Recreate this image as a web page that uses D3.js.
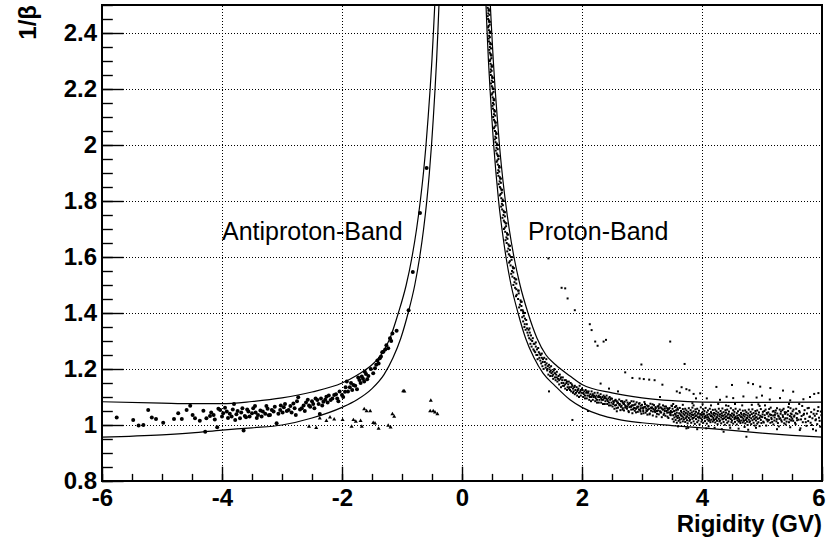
<!DOCTYPE html>
<html><head><meta charset="utf-8">
<script src="https://cdn.jsdelivr.net/npm/d3@7"></script>
<style>html,body{margin:0;padding:0;background:#fff;} svg{display:block;}</style>
</head><body>
<svg id="c" width="827" height="550"></svg>
<script>
// ---------- axes / labels ----------
const xTicks = [-6,-4,-2,0,2,4,6];
const yTicks = [0.8,1,1.2,1.4,1.6,1.8,2,2.2,2.4];
const xGrid = [-4,-2,0,2,4];
const yGrid = [1,1.2,1.4,1.6,1.8,2,2.2,2.4];
const xTitle = "Rigidity (GV)";
const yTitle = "1/\u03b2";
const bandLabels = [{text:"Antiproton-Band", r:-4.0, v:1.661},{text:"Proton-Band", r:1.1, v:1.661}];

// ---------- band boundary curves [rigidity, 1/beta] ----------
const antiUpper = [[-6,1.083],[-5,1.078],[-4.5,1.076],[-4,1.076],[-3.5,1.084],[-3,1.097],[-2.5,1.118],[-2,1.15],[-1.75,1.178],[-1.5,1.215],[-1.35,1.25],[-1.2,1.31],[-1.061,1.4],[-0.93,1.5],[-0.833,1.6],[-0.757,1.7],[-0.695,1.8],[-0.643,1.9],[-0.6,2.0],[-0.564,2.1],[-0.531,2.2],[-0.502,2.3],[-0.477,2.4],[-0.454,2.5],[-0.435,2.6]];
const antiLower = [[-6,0.957],[-5,0.965],[-4.5,0.972],[-4,0.982],[-3.5,0.99],[-3,1.0],[-2.5,1.025],[-2,1.063],[-1.75,1.09],[-1.5,1.13],[-1.3,1.18],[-1.15,1.24],[-1.02,1.31],[-0.898,1.4],[-0.787,1.5],[-0.705,1.6],[-0.64,1.7],[-0.587,1.8],[-0.544,1.9],[-0.508,2.0],[-0.477,2.1],[-0.449,2.2],[-0.424,2.3],[-0.403,2.4],[-0.384,2.5],[-0.367,2.6]];
const protUpper = [[0.452,2.6],[0.472,2.5],[0.496,2.4],[0.522,2.3],[0.552,2.2],[0.587,2.1],[0.624,2.0],[0.669,1.9],[0.723,1.8],[0.787,1.7],[0.866,1.6],[0.967,1.5],[1.10,1.4],[1.25,1.31],[1.40,1.25],[1.56,1.215],[1.8,1.175],[2.0,1.145],[2.5,1.115],[3.0,1.097],[3.5,1.087],[4.0,1.082],[4.5,1.081],[5.0,1.081],[6.0,1.082]];
const protLower = [[0.382,2.6],[0.40,2.5],[0.419,2.4],[0.441,2.3],[0.467,2.2],[0.496,2.1],[0.528,2.0],[0.566,1.9],[0.61,1.8],[0.666,1.7],[0.733,1.6],[0.818,1.5],[0.934,1.4],[1.06,1.31],[1.2,1.24],[1.35,1.185],[1.55,1.14],[1.8,1.09],[2.0,1.063],[2.3,1.036],[2.6,1.02],[3.0,1.008],[3.5,0.998],[4.0,0.99],[4.5,0.981],[5.0,0.971],[5.5,0.963],[6.0,0.957]];

// ---------- antiproton candidates (large dots) ----------
const antiDots = [[-5.755,1.027],[-5.48,1.018],[-5.39,0.998],[-5.31,1.0],[-5.23,1.054],[-5.17,1.027],[-5.1,1.021],[-4.98,1.008],[-4.8,1.021],[-4.73,1.042],[-4.67,1.021],[-4.59,1.054],[-4.53,1.069],[-4.49,1.036],[-4.45,1.024],[-4.37,1.015],[-4.31,1.051],[-4.28,0.976],[-4.26,1.024],[-4.2,1.032],[-4.14,1.036],[-4.08,0.992],[-4.03,1.054],[-3.98,1.042],[-3.92,1.048],[-3.84,1.03],[-3.8,1.075],[-3.76,1.038],[-3.7,1.024],[-3.64,0.98],[-3.62,1.032],[-3.56,1.048],[-3.5,1.042],[-3.45,1.068],[-3.4,1.036],[-3.32,1.048],[-3.26,1.068],[-3.2,1.036],[-3.17,1.054],[-3.09,1.006],[-3.03,1.054],[-2.97,1.063],[-2.89,1.054],[-2.81,1.077],[-2.77,1.036],[-2.73,1.099],[-2.67,1.06],[-2.6,1.08],[-2.53,1.065],[-2.48,1.075],[-2.41,1.089],[-2.37,1.039],[-2.31,1.083],[-2.26,1.101],[-2.19,1.089],[-2.13,1.107],[-2.08,1.095],[-2.0,1.107],[-1.95,1.119],[-1.92,1.155],[-1.87,1.135],[-1.81,1.143],[-1.75,1.128],[-1.71,1.161],[-1.67,1.173],[-1.63,1.155],[-1.6,1.182],[-1.58,1.163],[-1.45,1.203],[-1.39,1.22],[-1.37,1.238],[-1.31,1.262],[-1.23,1.274],[-1.16,1.327],[-1.09,1.337],[-0.89,1.41],
[-4.18,1.045],[-4.12,1.02],[-4.06,1.058],[-4.0,1.03],[-3.95,1.062],[-3.9,1.025],[-3.87,1.04],[-3.82,1.055],[-3.78,1.018],[-3.74,1.05],[-3.68,1.045],[-3.66,1.06],[-3.6,1.028],
[-3.58,1.055],[-3.54,1.03],[-3.48,1.06],[-3.44,1.045],[-3.42,1.025],[-3.36,1.052],[-3.34,1.03],[-3.28,1.04],[-3.24,1.058],[-3.22,1.035],[-3.14,1.048],[-3.12,1.065],[-3.06,1.04],[-3.02,1.07],
[-2.99,1.045],[-2.95,1.075],[-2.92,1.05],[-2.86,1.068],[-2.84,1.045],[-2.79,1.06],[-2.75,1.085],[-2.7,1.055],[-2.64,1.07],[-2.62,1.05],[-2.57,1.09],[-2.55,1.07],[-2.5,1.085],[-2.46,1.06],[-2.44,1.095],[-2.39,1.075],
[-2.35,1.095],[-2.33,1.07],[-2.28,1.09],[-2.24,1.08],[-2.22,1.105],[-2.16,1.095],[-2.1,1.11],[-2.06,1.085],[-2.04,1.12],[-1.98,1.1],[-1.94,1.135],[-1.9,1.12],[-1.85,1.15],[-1.83,1.125],
[-1.78,1.14],[-1.73,1.17],[-1.69,1.15],[-1.65,1.165],[-1.62,1.19],[-1.56,1.175],[-1.52,1.2],[-1.48,1.185],[-1.43,1.215],[-1.41,1.23],[-1.35,1.245],[-1.33,1.26],[-1.28,1.27],[-1.26,1.285],[-1.2,1.31],[-1.18,1.30],
[-0.82,1.546],[-0.70,1.757],[-0.59,1.918]];

// ---------- small triangles ----------
const triPoints = [[-0.98,1.121],[-0.96,1.12],[-0.52,1.087],[-0.53,1.05],[-0.48,1.05],[-0.45,1.045],[-0.41,1.039],[-1.16,1.039],[-1.13,1.03],[-1.63,1.057],[-1.59,1.05],[-1.53,1.05],[-1.81,1.018],[-1.77,1.012],[-1.84,0.994],[-1.67,0.994],[-1.69,1.015],[-1.48,1.008],[-1.45,1.006],[-1.39,0.987],[-1.23,0.998],[-1.19,0.992],[-1.99,1.018],[-2.13,1.02],[-2.2,1.027],[-2.26,1.015],[-2.37,1.024],[-2.43,0.99],[-2.55,0.994]];

// ---------- proton candidates (small dots) ----------
const protSteep = [[.428,2.49],[.446,2.485],[.438,2.47],[.458,2.465],[.436,2.45],[.449,2.445],[.462,2.43],[.443,2.425],[.448,2.41],[.467,2.405],[.452,2.39],[.465,2.385],[.449,2.37],[.471,2.365],[.464,2.35],[.484,2.345],[.463,2.33],[.476,2.325],[.49,2.31],[.471,2.305],[.476,2.29],[.495,2.285],[.48,2.27],[.494,2.265],[.480,2.25],[.502,2.245],[.496,2.23],[.516,2.225],[.497,2.21],[.51,2.205],[.525,2.19],[.506,2.185],[.511,2.17],[.53,2.165],[.516,2.15],[.53,2.145],[.516,2.13],[.538,2.125],[.533,2.11],[.553,2.105],[.533,2.09],[.546,2.085],[.562,2.07],[.543,2.065],[.55,2.05],[.569,2.045],[.556,2.03],[.57,2.025],[.558,2.01],[.58,2.005],[.576,1.99],[.596,1.985],[.578,1.97],[.591,1.965],[.608,1.95],[.589,1.945],[.597,1.93],[.62,1.925],[.605,1.91],[.621,1.905],[.607,1.89],[.63,1.885],[.627,1.87],[.648,1.865],[.631,1.85],[.644,1.845],[.664,1.83],[.644,1.825],[.655,1.81],[.678,1.805],[.665,1.79],[.681,1.785],[.669,1.77],[.692,1.765],[.691,1.75],[.715,1.745],[.697,1.73],[.711,1.725],[.735,1.71],[.714,1.705],[.72,1.69],[.75,1.685],[.74,1.67],[.758,1.665],[.745,1.65],[.773,1.645],[.772,1.63],[.798,1.625],[.78,1.61],[.796,1.605],[.826,1.59],[.798,1.585],[.81,1.57],[.846,1.565],[.834,1.55],[.855,1.545],[.84,1.53],[.873,1.525],[.875,1.51],[.905,1.505],[.885,1.49],[.905,1.485],[.945,1.47],[.912,1.465],[.935,1.45],[.975,1.445],[.965,1.43],[.99,1.425],[.985,1.41],[1.02,1.405],
[.441,2.48],[.451,2.44],[.46,2.4],[.47,2.36],[.48,2.32],[.491,2.28],[.503,2.24],[.513,2.2],[.527,2.16],[.54,2.12],[.553,2.08],[.568,2.04],[.584,2.0],[.6,1.96],[.617,1.92],[.636,1.88],[.657,1.84],[.679,1.8],[.702,1.76],[.727,1.72],[.755,1.68],[.786,1.64],[.818,1.6],[.852,1.56],[.89,1.52],[.935,1.48],[.982,1.44],[1.03,1.40],
[.420,2.50],[.428,2.46],[.437,2.42],[.445,2.38],[.454,2.34],[.463,2.30],[.473,2.26],[.484,2.22],[.496,2.18],[.507,2.14],[.519,2.10],[.532,2.06],[.546,2.02],[.562,1.98],[.577,1.94],[.593,1.90],[.611,1.86],[.63,1.82],[.652,1.78],[.674,1.74],[.698,1.70],[.725,1.66],[.754,1.62],[.785,1.58],[.82,1.54],[.856,1.50],[.90,1.46],[.952,1.42],
[.456,2.48],[.465,2.44],[.474,2.40],[.483,2.36],[.492,2.32],[.502,2.28],[.514,2.24],[.527,2.20],[.539,2.16],[.551,2.12],[.565,2.08],[.579,2.04],[.597,2.00],[.613,1.96],[.630,1.92],[.648,1.88],[.668,1.84],[.692,1.80],[.716,1.76],[.741,1.72],[.77,1.68],[.8,1.64],[.832,1.60],[.866,1.56],[.905,1.52],[.945,1.48],[.995,1.44],[1.05,1.40]];
const protMid = [[1.01,1.41],[1.02,1.37],[1.03,1.39],[1.04,1.35],[1.05,1.38],[1.06,1.34],[1.08,1.36],[1.09,1.33],
[1.11,1.34],[1.12,1.31],[1.13,1.33],[1.14,1.29],[1.15,1.32],[1.16,1.28],[1.18,1.31],[1.19,1.27],
[1.21,1.29],[1.22,1.26],[1.23,1.28],[1.24,1.25],[1.25,1.27],[1.26,1.235],[1.28,1.26],[1.29,1.24],
[1.31,1.25],[1.32,1.22],[1.33,1.24],[1.34,1.21],[1.35,1.235],[1.36,1.20],[1.38,1.225],[1.39,1.215],
[1.41,1.22],[1.42,1.195],[1.43,1.21],[1.44,1.18],[1.46,1.205],[1.47,1.175],[1.48,1.195],[1.49,1.185],
[1.51,1.19],[1.52,1.165],[1.54,1.2],[1.55,1.17],[1.57,1.18],[1.59,1.155],
[1.61,1.175],[1.62,1.145],[1.64,1.165],[1.65,1.135],[1.67,1.16],[1.69,1.15],
[1.71,1.16],[1.72,1.13],[1.74,1.15],[1.75,1.125],[1.77,1.145],[1.79,1.135],
[1.81,1.15],[1.82,1.12],[1.84,1.14],[1.85,1.115],[1.87,1.135],[1.89,1.125],
[1.91,1.135],[1.92,1.105],[1.94,1.13],[1.95,1.10],[1.97,1.12],[1.99,1.115],
[2.01,1.125],[2.02,1.10],[2.04,1.12],[2.05,1.095],[2.07,1.115],[2.09,1.105],
[2.11,1.12],[2.12,1.09],[2.14,1.11],[2.15,1.085],[2.17,1.105],[2.19,1.10],
[2.21,1.115],[2.22,1.085],[2.24,1.105],[2.25,1.08],[2.27,1.10],[2.29,1.09],
[2.31,1.11],[2.32,1.08],[2.34,1.10],[2.35,1.075],[2.37,1.095],[2.39,1.085],
[2.41,1.105],[2.42,1.075],[2.44,1.095],[2.45,1.07],[2.47,1.09],[2.49,1.08],
[2.50,1.094],[2.51,1.066],[2.53,1.081],[2.54,1.058],[2.55,1.087],[2.57,1.071],[2.58,1.049],[2.59,1.079],
[2.60,1.062],[2.62,1.091],[2.63,1.074],[2.64,1.053],[2.66,1.069],[2.67,1.085],[2.68,1.06],[2.69,1.077],
[2.70,1.052],[2.71,1.083],[2.73,1.067],[2.74,1.088],[2.75,1.058],[2.77,1.072],[2.78,1.046],[2.79,1.064],
[2.80,1.079],[2.82,1.055],[2.83,1.07],[2.84,1.042],[2.86,1.084],[2.87,1.061],[2.88,1.051],[2.89,1.074],
[2.90,1.058],[2.91,1.081],[2.93,1.047],[2.94,1.066],[2.95,1.076],[2.97,1.053],[2.98,1.069],[2.99,1.04],
[3.00,1.072],[3.02,1.05],[3.03,1.063],[3.04,1.082],[3.06,1.044],[3.07,1.059],[3.08,1.07],[3.09,1.037],
[3.10,1.055],[3.11,1.068],[3.13,1.041],[3.14,1.076],[3.15,1.051],[3.17,1.063],[3.18,1.034],[3.19,1.057],
[3.20,1.071],[3.22,1.046],[3.23,1.06],[3.24,1.03],[3.26,1.066],[3.27,1.052],[3.28,1.038],[3.29,1.074],
[3.30,1.049],[3.31,1.063],[3.33,1.028],[3.34,1.056],[3.35,1.07],[3.37,1.041],[3.38,1.058],[3.39,1.033],
[3.40,1.066],[3.42,1.044],[3.43,1.054],[3.44,1.025],[3.46,1.061],[3.47,1.037],[3.48,1.05],[3.49,1.069]];
const protExtra = [[1.005,1.385],[1.025,1.40],[1.045,1.36],[1.07,1.375],[1.085,1.345],[1.105,1.32],[1.125,1.345],[1.145,1.305],[1.17,1.3],[1.195,1.29],[1.205,1.265],[1.23,1.295],[1.255,1.25],[1.27,1.275],[1.295,1.255],[1.305,1.23],[1.33,1.255],[1.345,1.225],[1.37,1.24],[1.395,1.205],[1.405,1.235],[1.425,1.2],[1.45,1.215],[1.465,1.19],[1.485,1.21],
[1.505,1.175],[1.53,1.195],[1.56,1.16],[1.58,1.19],[1.6,1.165],[1.63,1.18],[1.66,1.15],[1.68,1.17],[1.70,1.14],[1.73,1.16],[1.76,1.135],[1.78,1.155],[1.80,1.125],[1.83,1.145],[1.86,1.12],[1.88,1.14],[1.90,1.115],[1.93,1.125],[1.96,1.14],[1.98,1.105],[2.0,1.13],[2.03,1.11],[2.06,1.125],[2.08,1.095],[2.1,1.115],[2.13,1.1],[2.16,1.12],[2.18,1.09],[2.2,1.105],[2.23,1.095],[2.26,1.115],[2.28,1.08],[2.3,1.1],[2.33,1.09],[2.36,1.105],[2.38,1.075],[2.4,1.095],[2.43,1.085],[2.46,1.1],[2.48,1.07],
[2.52,1.075],[2.56,1.09],[2.575,1.06],[2.6,1.08],[2.625,1.07],[2.65,1.085],[2.675,1.055],[2.7,1.075],[2.72,1.062],[2.76,1.08],[2.775,1.05],[2.81,1.066],[2.825,1.085],[2.85,1.056],[2.875,1.072],[2.9,1.045],[2.925,1.062],[2.96,1.078],[2.975,1.048],[3.01,1.062],[3.025,1.042],[3.05,1.075],[3.075,1.052],[3.1,1.066],[3.125,1.038],[3.16,1.06],[3.175,1.074],[3.21,1.05],[3.225,1.064],[3.25,1.04],[3.275,1.068],[3.31,1.045],[3.325,1.06],[3.36,1.036],[3.375,1.066],[3.41,1.05],[3.425,1.03],[3.45,1.058],[3.475,1.043],[3.5,1.068],
[3.52,1.075],[3.6,0.995],[3.68,1.072],[3.77,0.99],[3.84,1.078],[3.92,0.985],[4.01,1.074],[4.07,0.988],[4.15,1.07],[4.21,0.99],[4.27,1.075],[4.33,0.985],[4.4,1.07],[4.47,0.99],[4.55,1.075],[4.61,0.987],[4.67,1.07],[4.77,0.983],[4.83,1.072],[4.9,0.99],[4.96,1.068],[3.57,1.068],[3.86,1.07],[4.11,0.995],[4.44,1.068],[4.71,0.993],[4.94,1.074],[5.05,1.07],[5.25,0.985],[5.45,1.075],[5.62,1.075],[5.9,0.98],
[1.52,1.18],[1.55,1.185],[1.58,1.17],[1.62,1.16],[1.65,1.17],[1.68,1.14],[1.72,1.145],[1.75,1.155],[1.78,1.13],[1.82,1.135],[1.85,1.13],[1.88,1.11],[1.92,1.12],[1.95,1.115],[1.98,1.125],[2.02,1.115],[2.05,1.105],[2.08,1.12],[2.12,1.105],[2.15,1.1],[2.18,1.11],[2.22,1.1],[2.25,1.09],[2.28,1.105],[2.32,1.095],[2.35,1.09],[2.38,1.1],[2.42,1.09],[2.45,1.08],[2.48,1.095],[2.52,1.085],[2.55,1.07],[2.58,1.085],[2.62,1.075],[2.65,1.065],[2.68,1.08],[2.72,1.07],[2.75,1.065],[2.78,1.075],[2.82,1.065],[2.85,1.07],[2.88,1.06],[2.92,1.065],[2.95,1.055],[2.98,1.06],[3.02,1.058],[3.05,1.065],[3.08,1.05],[3.12,1.058],[3.15,1.062],[3.18,1.048],[3.22,1.055],[3.25,1.05],[3.28,1.06],[3.32,1.045],[3.35,1.055],[3.38,1.05],[3.42,1.06],[3.45,1.045],[3.48,1.035]];
const protDense = [[3.50,1.046],[3.51,1.021],[3.51,1.058],[3.52,1.035],[3.53,1.012],[3.53,1.049],[3.54,1.027],[3.55,1.064],[3.55,1.040],[3.56,1.018],[3.57,1.053],[3.57,1.031],[3.58,1.008],[3.58,1.044],[3.59,1.025],[3.59,1.060],[3.56,1.037],[3.54,1.050],
[3.60,1.033],[3.60,1.055],[3.61,1.015],[3.62,1.042],[3.62,1.026],[3.63,1.061],[3.64,1.009],[3.64,1.038],[3.65,1.050],[3.66,1.022],[3.66,1.045],[3.67,1.031],[3.68,1.057],[3.68,1.013],[3.69,1.040],[3.69,1.027],[3.65,1.034],[3.63,1.019],
[3.70,1.048],[3.70,1.020],[3.71,1.036],[3.72,1.058],[3.72,1.011],[3.73,1.043],[3.74,1.029],[3.74,1.052],[3.75,1.017],[3.76,1.039],[3.76,1.006],[3.77,1.047],[3.78,1.025],[3.78,1.060],[3.79,1.034],[3.79,1.015],[3.75,1.031],[3.73,1.024],
[3.80,1.041],[3.80,1.019],[3.81,1.053],[3.82,1.030],[3.82,1.008],[3.83,1.045],[3.84,1.022],[3.84,1.062],[3.85,1.036],[3.86,1.013],[3.86,1.049],[3.87,1.027],[3.88,1.040],[3.88,1.004],[3.89,1.056],[3.89,1.032],[3.85,1.025],[3.83,1.037],
[3.90,1.021],[3.90,1.047],[3.91,1.034],[3.92,1.010],[3.92,1.058],[3.93,1.028],[3.94,1.043],[3.94,1.016],[3.95,1.051],[3.96,1.031],[3.96,1.002],[3.97,1.039],[3.98,1.024],[3.98,1.063],[3.99,1.036],[3.99,1.012],[3.95,1.026],[3.93,1.040],
[4.00,1.044],[4.00,1.019],[4.01,1.031],[4.02,1.056],[4.02,1.008],[4.03,1.038],[4.04,1.024],[4.04,1.050],[4.05,1.014],[4.06,1.033],[4.06,1.061],[4.07,1.027],[4.08,1.045],[4.08,1.005],[4.09,1.036],[4.09,1.020],[4.05,1.029],[4.03,1.041],
[4.10,1.028],[4.10,1.052],[4.11,1.015],[4.12,1.039],[4.12,1.023],[4.13,1.058],[4.14,1.010],[4.14,1.034],[4.15,1.046],[4.16,1.019],[4.16,1.041],[4.17,1.030],[4.18,1.054],[4.18,1.012],[4.19,1.037],[4.19,1.025],[4.15,1.032],[4.13,1.017],
[4.20,1.043],[4.20,1.018],[4.21,1.033],[4.22,1.055],[4.22,1.009],[4.23,1.040],[4.24,1.026],[4.24,1.049],[4.25,1.015],[4.26,1.036],[4.26,1.003],[4.27,1.044],[4.28,1.022],[4.28,1.058],[4.29,1.031],[4.29,1.013],[4.25,1.028],[4.23,1.021],
[4.30,1.038],[4.30,1.016],[4.31,1.050],[4.32,1.027],[4.32,1.006],[4.33,1.042],[4.34,1.020],[4.34,1.059],[4.35,1.033],[4.36,1.011],[4.36,1.046],[4.37,1.024],[4.38,1.037],[4.38,1.001],[4.39,1.053],[4.39,1.029],[4.35,1.022],[4.33,1.034],
[4.40,1.019],[4.40,1.044],[4.41,1.031],[4.42,1.008],[4.42,1.055],[4.43,1.025],[4.44,1.040],[4.44,1.013],[4.45,1.048],[4.46,1.028],[4.46,0.999],[4.47,1.036],[4.48,1.021],[4.48,1.060],[4.49,1.033],[4.49,1.010],[4.45,1.024],[4.43,1.037],
[4.50,1.041],[4.50,1.016],[4.51,1.028],[4.52,1.053],[4.52,1.005],[4.53,1.035],[4.54,1.021],[4.54,1.047],[4.55,1.011],[4.56,1.030],[4.56,1.058],[4.57,1.024],[4.58,1.042],[4.58,1.002],[4.59,1.033],[4.59,1.017],[4.55,1.026],[4.53,1.038],
[4.60,1.025],[4.60,1.049],[4.61,1.012],[4.62,1.036],[4.62,1.020],[4.63,1.055],[4.64,1.007],[4.64,1.031],[4.65,1.043],[4.66,1.016],[4.66,1.038],[4.67,1.027],[4.68,1.051],[4.68,1.009],[4.69,1.034],[4.69,1.022],[4.65,1.029],[4.63,1.014],
[4.70,1.040],[4.70,1.015],[4.71,1.030],[4.72,1.052],[4.72,1.006],[4.73,1.037],[4.74,1.023],[4.74,1.046],[4.75,1.012],[4.76,1.033],[4.76,1.000],[4.77,1.041],[4.78,1.019],[4.78,1.055],[4.79,1.028],[4.79,1.010],[4.75,1.025],[4.73,1.018],
[4.80,1.035],[4.80,1.013],[4.81,1.047],[4.82,1.024],[4.82,1.003],[4.83,1.039],[4.84,1.017],[4.84,1.056],[4.85,1.030],[4.86,1.008],[4.86,1.043],[4.87,1.021],[4.88,1.034],[4.88,0.998],[4.89,1.050],[4.89,1.026],
[4.90,1.016],[4.90,1.041],[4.91,1.028],[4.92,1.005],[4.92,1.052],[4.93,1.022],[4.94,1.037],[4.94,1.010],[4.95,1.045],[4.96,1.025],[4.96,0.996],[4.97,1.033],[4.98,1.018],[4.98,1.057],[4.99,1.030],[4.99,1.007]];
const protTail = [[5.01,1.038],[5.02,1.012],[5.04,1.050],[5.05,1.025],[5.07,0.998],[5.08,1.043],[5.09,1.019],
[5.11,1.031],[5.12,1.057],[5.14,1.008],[5.15,1.036],[5.16,1.021],[5.18,1.048],[5.19,1.002],
[5.21,1.027],[5.22,1.044],[5.24,1.013],[5.25,1.060],[5.27,1.033],[5.28,0.995],[5.29,1.022],
[5.31,1.040],[5.32,1.017],[5.34,1.053],[5.35,1.029],[5.37,1.006],[5.38,1.046],[5.39,1.024],
[5.41,1.012],[5.43,1.037],[5.44,1.064],[5.46,1.020],[5.47,0.992],[5.48,1.041],[5.49,1.028],
[5.51,1.049],[5.52,1.015],[5.54,1.034],[5.56,1.003],[5.57,1.058],[5.58,1.025],[5.59,1.040],
[5.61,1.019],[5.63,1.045],[5.64,0.988],[5.66,1.032],[5.67,1.068],[5.68,1.010],[5.69,1.036],
[5.71,1.053],[5.72,1.022],[5.74,0.997],[5.75,1.041],[5.77,1.014],[5.78,1.061],[5.79,1.029],
[5.81,1.008],[5.82,1.046],[5.84,1.024],[5.85,0.985],[5.87,1.055],[5.88,1.033],[5.89,1.017],
[5.91,1.040],[5.92,1.003],[5.94,1.064],[5.95,1.026],[5.97,0.994],[5.98,1.048],
[5.005,1.028],[5.015,1.047],[5.03,1.009],[5.045,1.035],[5.06,1.055],[5.075,1.02],[5.085,1.04],[5.095,1.013],
[5.105,1.045],[5.115,1.018],[5.13,1.038],[5.145,1.062],[5.155,1.026],[5.17,1.011],[5.185,1.034],[5.195,1.05],
[5.205,1.016],[5.215,1.036],[5.23,1.052],[5.245,1.021],[5.255,1.041],[5.265,1.007],[5.28,1.03],[5.295,1.055],
[5.305,1.024],[5.315,1.048],[5.33,1.012],[5.345,1.035],[5.36,1.058],[5.375,1.019],[5.385,1.04],[5.395,1.002],
[5.405,1.045],[5.42,1.024],[5.435,1.05],[5.45,1.01],[5.465,1.032],[5.475,1.06],[5.485,1.016],[5.495,1.038],
[5.505,1.022],[5.525,1.055],[5.535,1.03],[5.55,1.008],[5.565,1.042],[5.585,1.017],
[5.62,1.05],[5.65,1.02],[5.7,1.04],[5.73,1.01],[5.76,1.06],[5.8,1.03],[5.83,1.0],[5.86,1.04],[5.9,1.02],[5.93,1.05],[5.96,1.015],[5.99,1.035]];
const protOut = [[1.44,1.595],[1.66,1.49],[1.72,1.488],[1.76,1.452],[1.88,1.41],[2.13,1.36],[2.16,1.339],[2.22,1.298],[2.26,1.283],[2.36,1.298],[2.4,1.304],[3.47,1.298],[2.99,1.216],[3.71,1.218],[2.72,1.188],[2.84,1.168],[2.96,1.166],[3.03,1.164],[3.12,1.162],[3.21,1.16],[3.34,1.144],[2.31,1.148],[3.58,1.12],[3.63,1.115],[3.74,1.128],[3.79,1.124],[3.86,1.111],[3.66,1.135],[4.24,1.136],[4.5,1.143],[4.77,1.151],[4.85,1.146],[4.97,1.137],[5.14,1.132],[5.35,1.123],[5.52,1.119],[5.87,1.111],[5.94,1.114],[3.97,1.113],[4.08,1.095],[4.41,1.101],[4.52,1.096],[4.69,1.102],[4.91,1.098],[5.13,1.091],[5.3,1.096],[5.47,1.088],[5.69,1.092],[1.84,1.018],[4.74,0.958],[3.74,0.988],[4.36,0.976],[5.63,0.982],[2.6,1.12],[2.45,1.13],[3.3,1.1],[3.9,1.095],[4.3,1.09],[5.0,1.105],[5.8,1.1],[2.1,1.05],[1.45,1.12]];

// ---------- drawing ----------
const L=102, Rt=822, T=5, B=481;
const x = d3.scaleLinear().domain([-6,6]).range([L,Rt]);
const y = d3.scaleLinear().domain([0.8,2.5]).range([B,T]);
const svg = d3.select("#c");
const FONT = "'Liberation Sans', Arial, Helvetica, sans-serif";

svg.append("defs").append("clipPath").attr("id","plot")
  .append("rect").attr("x",L).attr("y",T).attr("width",Rt-L).attr("height",B-T);

// grid
const grid = svg.append("g").attr("stroke","#000").attr("stroke-width",1).attr("stroke-dasharray","1,2");
grid.selectAll("line.gx").data(xGrid).join("line").attr("class","gx")
  .attr("x1",d=>Math.round(x(d))+0.5).attr("x2",d=>Math.round(x(d))+0.5).attr("y1",B).attr("y2",T);
grid.selectAll("line.gy").data(yGrid).join("line").attr("class","gy")
  .attr("y1",d=>Math.round(y(d))+0.5).attr("y2",d=>Math.round(y(d))+0.5).attr("x1",L).attr("x2",Rt);

const plot = svg.append("g").attr("clip-path","url(#plot)");

// band curves
const line = d3.line().x(d=>x(d[0])).y(d=>y(d[1])).curve(d3.curveMonotoneX);
[antiUpper, antiLower, protUpper, protLower].forEach(c=>{
  plot.append("path").attr("d",line(c)).attr("fill","none").attr("stroke","#000").attr("stroke-width",1.2);
});

// proton small dots
const protAll = protSteep.concat(protMid, protExtra, protDense, protTail, protOut);
plot.append("g").selectAll("rect").data(protAll).join("rect")
  .attr("x",d=>x(d[0])-1).attr("y",d=>y(d[1])-1).attr("width",2).attr("height",2).attr("fill","#000");

// triangles
const tri = d3.symbol().type(d3.symbolTriangle).size(7);
plot.append("g").selectAll("path").data(triPoints).join("path")
  .attr("transform",d=>`translate(${x(d[0])},${y(d[1])})`).attr("d",tri).attr("fill","#000");

// antiproton dots
plot.append("g").selectAll("circle").data(antiDots).join("circle")
  .attr("cx",d=>x(d[0])).attr("cy",d=>y(d[1])).attr("r",2.0).attr("fill","#000");

// axes (inward ticks)
svg.append("g").attr("transform",`translate(${L},0)`)
  .call(d3.axisLeft(y).tickValues(yTicks).tickSize(-21.6).tickPadding(5).tickFormat(d3.format("~g")));
svg.append("g").attr("transform",`translate(${L},0)`)
  .call(d3.axisLeft(y).ticks(34).tickSize(-10.8).tickFormat(""));
const xAx = svg.append("g").attr("transform",`translate(0,${B})`)
  .call(d3.axisBottom(x).tickValues(xTicks).tickSize(-14.3).tickPadding(8).tickFormat(d3.format("~g")));
svg.append("g").attr("transform",`translate(0,${B})`)
  .call(d3.axisBottom(x).ticks(24).tickSize(-7.1).tickFormat(""));
svg.selectAll(".domain").remove();
svg.selectAll(".tick line").attr("stroke","#000").attr("stroke-width",1.4);
svg.selectAll(".tick text").attr("font-family",FONT).attr("font-weight","bold").attr("font-size",24).attr("fill","#000");
xAx.selectAll(".tick text").text(d=>d<0? "-"+Math.abs(d) : String(d))
  .attr("dx",d=>d===6? "-0.15em" : null);

// frame
svg.append("rect").attr("x",L).attr("y",T).attr("width",Rt-L).attr("height",B-T)
  .attr("fill","none").attr("stroke","#000").attr("stroke-width",2);

// titles
svg.append("text").attr("x",Rt).attr("y",532).attr("text-anchor","end")
  .attr("font-family",FONT).attr("font-weight","bold").attr("font-size",24).text(xTitle);
svg.append("text").attr("transform","translate(36,5) rotate(-90)").attr("text-anchor","end")
  .attr("font-family",FONT).attr("font-weight","bold").attr("font-size",24).text(yTitle);

// band labels
svg.selectAll("text.band").data(bandLabels).join("text").attr("class","band")
  .attr("x",d=>x(d.r)).attr("y",d=>y(d.v)).attr("font-family",FONT).attr("font-size",25).attr("fill","#000")
  .text(d=>d.text);
</script>
</body></html>
